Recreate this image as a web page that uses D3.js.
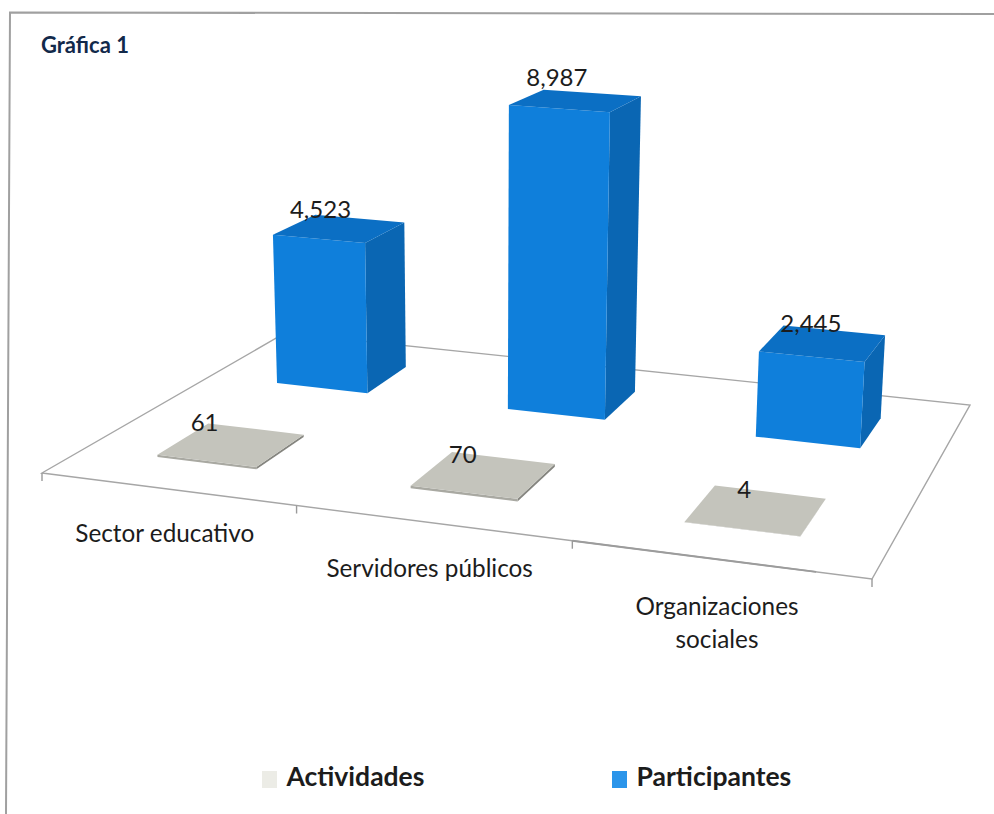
<!DOCTYPE html>
<html>
<head>
<meta charset="utf-8">
<script src="https://cdn.jsdelivr.net/npm/d3@7/dist/d3.min.js"></script>
<style>
  html, body { margin: 0; padding: 0; background: #fff; }
  svg { display: block; }
  text { font-family: "Lato", sans-serif; fill: #1c1c1c; }
</style>
</head>
<body>
<div id="chart"></div>
<script>
const categories = ["Sector educativo", "Servidores públicos", "Organizaciones sociales"];
const seriesNames = ["Actividades", "Participantes"];
const actividades = [61, 70, 4];
const participantes = [4523, 8987, 2445];
const seriesValues = [actividades, participantes];

const width = 994, height = 814;

const svg = d3.select("#chart").append("svg")
  .attr("width", width)
  .attr("height", height);

// frame of the scanned chart, only top and left really show
svg.append("path")
  .attr("d", "M6,814L10,12.5L994,14")
  .attr("fill", "none")
  .attr("stroke", "#a0a0a0")
  .attr("stroke-width", 2);

// floor corners on screen, used to work out the perspective
const floorLF = [42, 473], floorRF = [872, 579], floorRB = [970, 405], floorLB = [285, 333];

function makeHomography(p0, p1, p2, p3) {
  const dx1 = p1[0] - p2[0], dx2 = p3[0] - p2[0], sx = p0[0] - p1[0] + p2[0] - p3[0];
  const dy1 = p1[1] - p2[1], dy2 = p3[1] - p2[1], sy = p0[1] - p1[1] + p2[1] - p3[1];
  const den = dx1 * dy2 - dx2 * dy1;
  const g = (sx * dy2 - dx2 * sy) / den;
  const h = (dx1 * sy - sx * dy1) / den;
  const a = p1[0] - p0[0] + g * p1[0], b = p3[0] - p0[0] + h * p3[0];
  const d = p1[1] - p0[1] + g * p1[1], e = p3[1] - p0[1] + h * p3[1];
  return (u, v) => {
    const w = g * u + h * v + 1;
    return { x: (a * u + b * v + p0[0]) / w, y: (d * u + e * v + p0[1]) / w, w };
  };
}
const floor = makeHomography(floorLF, floorRF, floorRB, floorLB);

const uScale = d3.scaleBand().domain(categories).range([0, 1]).paddingInner(0.6).paddingOuter(0.3);
const vScale = d3.scaleBand().domain(seriesNames).range([0, 1]).paddingInner(0.6).paddingOuter(0.3);
const hScale = d3.scaleLinear().domain([0, 10000]).range([0, 373]);
const axisU = d3.scalePoint().domain(d3.range(categories.length + 1)).range([0, 1]);

// verticals lean very slightly towards a point far below the chart
const leanX = 483, leanRate = 0.000134;
// the scan squeezes the middle of the floor a little
const uWarp = -0.015;

function project(u, v, value) {
  const p = floor(u + uWarp * u * (1 - u), v);
  const lift = hScale(value) / p.w;
  return [p.x + (p.x - leanX) * lift * leanRate, p.y - lift];
}
const pathOf = pts => "M" + pts.map(p => p.join(",")).join("L") + "Z";

// floor outline
const gFloor = svg.append("g");
gFloor.append("path")
  .attr("d", pathOf([[0, 0], [1, 0], [1, 1], [0, 1]].map(c => project(c[0], c[1], 0))))
  .attr("fill", "#ffffff")
  .attr("stroke", "#a6a6a6")
  .attr("stroke-width", 1.4);

// darker stretch of the front edge
gFloor.append("line")
  .attr("x1", project(2 / 3, 0, 0)[0]).attr("y1", project(2 / 3, 0, 0)[1])
  .attr("x2", project(0.94, 0, 0)[0]).attr("y2", project(0.94, 0, 0)[1])
  .attr("stroke", "#9c9c9c")
  .attr("stroke-width", 2);

gFloor.selectAll("line.tick")
  .data(axisU.domain())
  .enter().append("line")
  .attr("class", "tick")
  .attr("x1", d => project(axisU(d), 0, 0)[0])
  .attr("y1", d => project(axisU(d), 0, 0)[1])
  .attr("x2", d => project(axisU(d), 0, 0)[0])
  .attr("y2", d => project(axisU(d), 0, 0)[1] + 8)
  .attr("stroke", "#9a9a9a")
  .attr("stroke-width", 1.4);

const barColors = {
  Actividades: { front: "#a9a9a2", side: "#85857f", top: "#c4c4bc" },
  Participantes: { front: "#0f7fdb", side: "#0a66b3", top: "#0b6fc4" }
};

// label nudges from the bar centre, per series and category
const labelShiftX = { Actividades: [-27, -21, -12], Participantes: [-19, -19, -12] };
const labelShiftY = { Actividades: [-14, -12, -12], Participantes: [-11, -15, -11] };

// back series first so the front one sits over it
const barData = [];
seriesNames.slice().reverse().forEach(s => {
  const vals = seriesValues[seriesNames.indexOf(s)];
  categories.forEach((c, i) => barData.push({ series: s, category: c, index: i, value: vals[i] }));
});

const bars = svg.append("g").selectAll("g")
  .data(barData)
  .enter().append("g");

function corners(d) {
  const u0 = uScale(d.category), u1 = u0 + uScale.bandwidth();
  const v0 = vScale(d.series), v1 = v0 + vScale.bandwidth();
  return { u0, u1, v0, v1 };
}

bars.append("path")
  .attr("fill", d => barColors[d.series].side)
  .attr("d", d => {
    const c = corners(d);
    return pathOf([project(c.u1, c.v0, 0), project(c.u1, c.v1, 0), project(c.u1, c.v1, d.value), project(c.u1, c.v0, d.value)]);
  });
bars.append("path")
  .attr("fill", d => barColors[d.series].front)
  .attr("d", d => {
    const c = corners(d);
    return pathOf([project(c.u0, c.v0, 0), project(c.u1, c.v0, 0), project(c.u1, c.v0, d.value), project(c.u0, c.v0, d.value)]);
  });
bars.append("path")
  .attr("fill", d => barColors[d.series].top)
  .attr("d", d => {
    const c = corners(d);
    return pathOf([project(c.u0, c.v0, d.value), project(c.u1, c.v0, d.value), project(c.u1, c.v1, d.value), project(c.u0, c.v1, d.value)]);
  });

// value labels
const fmt = d3.format(",");
const barTop = d => project(uScale(d.category) + uScale.bandwidth() / 2, vScale(d.series) + vScale.bandwidth() / 2, d.value);
svg.append("g").selectAll("text")
  .data(barData)
  .enter().append("text")
  .attr("x", d => barTop(d)[0] + labelShiftX[d.series][d.index])
  .attr("y", d => barTop(d)[1] + labelShiftY[d.series][d.index])
  .attr("text-anchor", "middle")
  .attr("font-size", 24)
  .text(d => fmt(d.value));

// category labels, the long one wraps on two lines
const catLabels = svg.append("g").selectAll("text")
  .data(categories)
  .enter().append("text")
  .attr("text-anchor", "middle")
  .attr("font-size", 24.3)
  .attr("transform", (d, i) => {
    const p = project(uScale(d) + uScale.bandwidth() / 2, 0, 0);
    return `translate(${p[0] - 2},${p[1] + 53 + i * 1.5})`;
  });
catLabels.selectAll("tspan")
  .data(d => d === "Organizaciones sociales" ? d.split(" ") : [d])
  .enter().append("tspan")
  .attr("x", 0)
  .attr("dy", (d, i) => i ? 33 : 0)
  .text(d => d);

// title
svg.append("text")
  .attr("x", 41).attr("y", 53)
  .attr("font-size", 22)
  .attr("font-weight", 700)
  .style("fill", "#12294a")
  .text("Gráfica 1");

// legend
const legendX = d3.scaleOrdinal().domain(seriesNames).range([262, 612]);
const legendColor = d3.scaleOrdinal().domain(seriesNames).range(["#ecece6", "#2b95ea"]);
const legend = svg.append("g").selectAll("g")
  .data(seriesNames)
  .enter().append("g")
  .attr("transform", d => `translate(${legendX(d)},771)`);
legend.append("rect")
  .attr("width", 15).attr("height", 17)
  .attr("fill", d => legendColor(d));
legend.append("text")
  .attr("x", 24.5)
  .attr("y", 15)
  .attr("font-size", 26.5)
  .attr("font-weight", 700)
  .text(d => d);
</script>
</body>
</html>
